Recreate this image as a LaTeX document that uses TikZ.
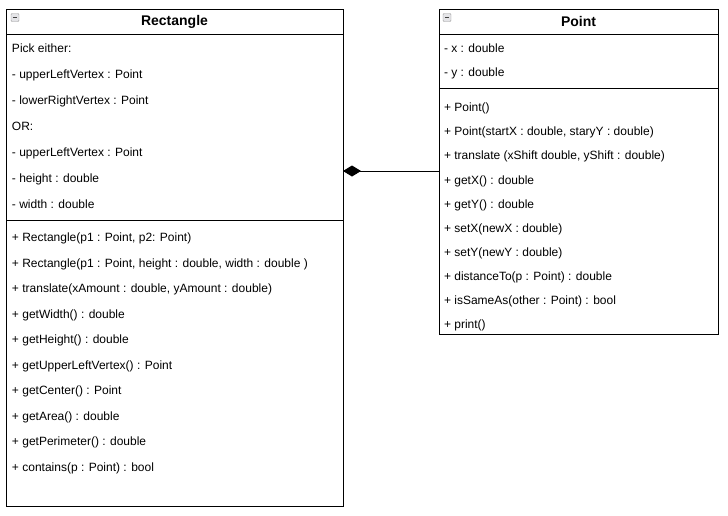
\documentclass[tikz,border=0pt]{standalone}
\usepackage{fontspec}
\setmainfont{Liberation Sans}
\usetikzlibrary{arrows.meta, positioning}

\begin{document}
\begin{tikzpicture}[x=1pt, y=-1pt,
  every node/.style={inner sep=0pt, outer sep=0pt},
  classhead/.style={draw, rectangle, line width=1pt, minimum height=25pt, font=\fontsize{14}{16}\selectfont\bfseries},
  classpart/.style={draw, rectangle, line width=1pt},
  member/.style={anchor=base west, font=\fontsize{12}{14}\selectfont},
  toggle/.style={draw=gray!80, fill=blue!6!gray!20, rounded corners=1pt, minimum size=8pt,
    path picture={\draw[black!75, line width=0.9pt] ([xshift=1.8pt]path picture bounding box.west) -- ([xshift=-1.8pt]path picture bounding box.east);}}]
\useasboundingbox (0,0) rectangle (728,515);

% Rectangle class
\node (RectHead) [classhead, minimum width=337pt] at (174.5,21.5) {Rectangle};
\node (RectAttr) [classpart, below=0pt of RectHead, minimum width=337pt, minimum height=186pt] {};
\node (RectOps) [classpart, below=0pt of RectAttr, minimum width=337pt, minimum height=286pt] {};
\node (RectToggle) [toggle] at (15,17.5) {};

\node (ra1) [member] at (12,52.5) {Pick either:};
\node (ra2) [member] at (12,78.5) {- upperLeftVertex : Point};
\node (ra3) [member] at (12,104) {- lowerRightVertex : Point};
\node (ra4) [member] at (12,130) {OR:};
\node (ra5) [member] at (12,156) {- upperLeftVertex : Point};
\node (ra6) [member] at (12,182) {- height : double};
\node (ra7) [member] at (12,208) {- width : double};

\node (ro1) [member] at (12,241.5) {+ Rectangle(p1 : Point, p2: Point)};
\node (ro2) [member] at (12,267) {+ Rectangle(p1 : Point, height : double, width : double )};
\node (ro3) [member] at (12,292.5) {+ translate(xAmount : double, yAmount : double)};
\node (ro4) [member] at (12,318) {+ getWidth() : double};
\node (ro5) [member] at (12,343.5) {+ getHeight() : double};
\node (ro6) [member] at (12,369) {+ getUpperLeftVertex() : Point};
\node (ro7) [member] at (12,394.5) {+ getCenter() : Point};
\node (ro8) [member] at (12,420) {+ getArea() : double};
\node (ro9) [member] at (12,445.5) {+ getPerimeter() : double};
\node (ro10) [member] at (12,471) {+ contains(p : Point) : bool};

% Point class
\node (PointHead) [classhead, minimum width=279pt] at (578.5,21.5) {Point};
\node (PointAttr) [classpart, below=0pt of PointHead, minimum width=279pt, minimum height=54pt] {};
\node (PointOps) [classpart, below=0pt of PointAttr, minimum width=279pt, minimum height=246pt] {};
\node (PointToggle) [toggle] at (447,17.5) {};

\node (pa1) [member] at (444,52.5) {- x : double};
\node (pa2) [member] at (444,76.5) {- y : double};

\node (po1) [member] at (444,111.5) {+ Point()};
\node (po2) [member] at (444,135.5) {+ Point(startX : double, staryY : double)};
\node (po3) [member] at (444,159.5) {+ translate (xShift double, yShift : double)};
\node (po4) [member] at (444,184) {+ getX() : double};
\node (po5) [member] at (444,208) {+ getY() : double};
\node (po6) [member] at (444,232) {+ setX(newX : double)};
\node (po7) [member] at (444,256) {+ setY(newY : double)};
\node (po8) [member] at (444,280) {+ distanceTo(p : Point) : double};
\node (po9) [member] at (444,304) {+ isSameAs(other : Point) : bool};
\node (po10) [member] at (444,328) {+ print()};

% composition
\coordinate (joint) at ([yshift=-44pt]RectAttr.east);
\draw[{Diamond[length=18pt,width=11pt]}-, line width=1pt] (joint) -- (joint -| PointOps.west);
\end{tikzpicture}
\end{document}
